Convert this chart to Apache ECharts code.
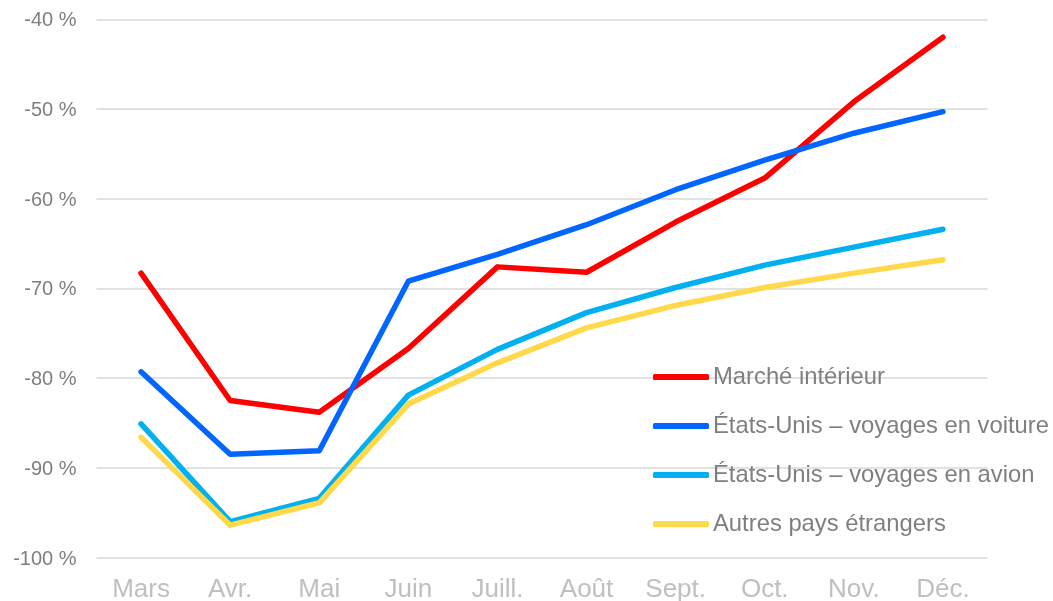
<!DOCTYPE html>
<html>
<head>
<meta charset="utf-8">
<script src="https://cdn.jsdelivr.net/npm/echarts@6/dist/echarts.min.js"></script>
<style>html,body{margin:0;padding:0;background:#fff;}#c{width:1053px;height:601px;}</style>
</head>
<body>
<div id="c"></div>
<script>
const categories = ['Mars','Avr.','Mai','Juin','Juill.','Août','Sept.','Oct.','Nov.','Déc.'];
const seriesNames = ['Marché intérieur','États-Unis – voyages en voiture','États-Unis – voyages en avion','Autres pays étrangers'];
const marcheInterieur = [-68.3,-82.5,-83.8,-76.7,-67.6,-68.2,-62.6,-57.7,-49.2,-42.0];
const usVoiture = [-79.3,-88.5,-88.1,-69.2,-66.2,-62.9,-59.0,-55.7,-52.7,-50.3];
const usAvion = [-85.1,-96.0,-93.4,-81.9,-76.8,-72.7,-69.9,-67.4,-65.4,-63.4];
const autresPays = [-86.6,-96.4,-93.9,-82.9,-78.3,-74.4,-71.9,-69.9,-68.3,-66.8];
const yTicks = {min:-100, max:-40, interval:10};

const colors = ['#FF0000','#0066FF','#00B0F0','#FFD94A'];
const data = [marcheInterieur, usVoiture, usAvion, autresPays];

const chart = echarts.init(document.getElementById('c'), null, {renderer:'canvas'});
chart.setOption({
  animation:false,
  backgroundColor:'#fff',
  grid:{left:96.5, right:65.5, top:19.3, bottom:43.5, containLabel:false, outerBoundsMode:'none'},
  legend:{
    orient:'vertical', left:648, top:360,
    itemWidth:56, itemHeight:6, itemGap:25,
    icon:'roundRect',
    textStyle:{fontFamily:'Liberation Sans, Arial, sans-serif', fontSize:23.8, color:'#7F7F7F', padding:[0,0,0,-1]},
    data:seriesNames
  },
  xAxis:{
    type:'category', data:categories, boundaryGap:true,
    axisLine:{show:false}, axisTick:{show:false},
    axisLabel:{fontFamily:'Liberation Sans, Arial, sans-serif', fontSize:26, color:'#BFBFBF', margin:19}
  },
  yAxis:{
    type:'value', min:yTicks.min, max:yTicks.max, interval:yTicks.interval,
    axisLine:{show:false}, axisTick:{show:false},
    splitLine:{lineStyle:{color:'#D9D9D9', width:1.5}},
    axisLabel:{fontFamily:'Liberation Sans, Arial, sans-serif', fontSize:20, color:'#7F7F7F', margin:20,
      formatter:v=>'{a|'+v+' %}',
      rich:{a:{fontFamily:'Liberation Sans, Arial, sans-serif', fontSize:20, color:'#7F7F7F', padding:[3,0,0,0]}}}
  },
  series: seriesNames.map((n,i)=>({
    name:n, type:'line', data:data[i], symbol:'none', smooth:false,
    color:colors[i],
    lineStyle:{color:colors[i], width:5.5, cap:'round', join:'round'},
    itemStyle:{color:colors[i]}
  }))
});
</script>
</body>
</html>
